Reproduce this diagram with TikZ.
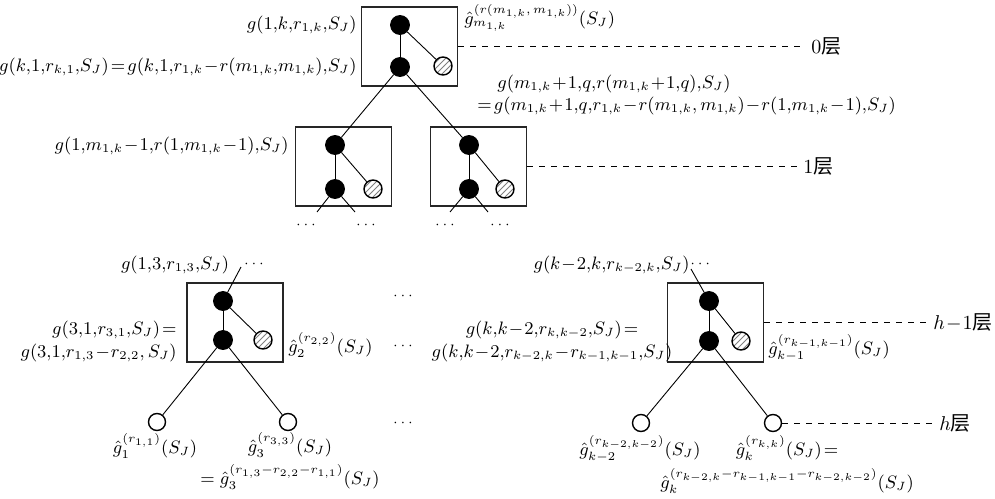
\documentclass[tikz,border=0pt]{standalone}
\usepackage{fontspec}
\newfontfamily\cjk{Noto Sans CJK SC}
\usetikzlibrary{patterns}
\mathcode`\,="013B
\begin{document}
\begin{tikzpicture}[x=0.5pt,y=-0.5pt,
  blk/.style={circle, fill=black, draw=black, inner sep=0pt, minimum size=9.5pt},
  hatc/.style={circle, draw=black, line width=0.7pt, pattern=north east lines, pattern color=gray, inner sep=0pt, minimum size=9pt},
  leaf/.style={circle, draw=black, line width=0.7pt, fill=white, inner sep=0pt, minimum size=8.5pt},
  frame/.style={draw=black!85, line width=0.6pt, inner sep=0pt, minimum width=48pt, minimum height=39.5pt},
  edge/.style={line width=0.45pt},
  lay/.style={dashed, line width=0.45pt},
  lbl/.style={inner sep=0pt, font=\fontsize{9.2}{11.5}\selectfont},
  dots/.style={inner sep=0pt, font=\fontsize{7}{8}\selectfont},
  laylbl/.style={inner sep=2.5pt, anchor=west, font=\fontsize{10}{12}\selectfont},
]
\useasboundingbox (0,0) rectangle (995,498);

% ---------- frames ----------
\node[frame] (B0) at (409.5,46.5) {};
\node[frame] (B1L) at (343.5,166.5) {};
\node[frame] (B1R) at (478.5,166.5) {};
\node[frame] (B2L) at (235,322.5) {};
\node[frame] (B2R) at (715.5,322.5) {};

% ---------- level 0 ----------
\node[blk] (a0) at (400,25) {};
\node[blk] (b0) at (400,67) {};
\node[hatc] (c0) at (443,66) {};
\draw[edge] (a0) -- (b0);
\draw[edge] (a0) -- (c0);
\node[lbl, anchor=east] (l0a) at (357,25) {$g(1,k,r_{1,k},S_J)$};
\node[lbl, anchor=east] (l0b) at (357,67) {$g(k,1,r_{k,1},S_J)\!=\!g(k,1,r_{1,k}\!-\!r(m_{1,k},m_{1,k}),S_J)$};
\node[lbl, anchor=west] (l0c) at (464,18) {$\hat{g}_{m_{1,k}}^{(r(m_{1,k},\,m_{1,k}))}(S_J)$};
\node[laylbl] (L0) at (806,46.5) {0\cjk 层};
\draw[lay] (B0.east) -- (L0.west);

% ---------- level 1 ----------
\node[blk] (a1) at (335,145) {};
\node[blk] (b1) at (335,189) {};
\node[hatc] (c1) at (373,189) {};
\node[blk] (a2) at (469,145) {};
\node[blk] (b2) at (469,189) {};
\node[hatc] (c2) at (505,189) {};
\draw[edge] (a1) -- (b1);
\draw[edge] (a1) -- (c1);
\draw[edge] (a2) -- (b2);
\draw[edge] (a2) -- (c2);
\draw[edge] (b0) -- (a1);
\draw[edge] (b0) -- (a2);
\coordinate (s1l) at (317,212);
\coordinate (s1r) at (355,212);
\coordinate (s2l) at (450,212);
\coordinate (s2r) at (488,212);
\draw[edge] (b1) -- (s1l);
\draw[edge] (b1) -- (s1r);
\draw[edge] (b2) -- (s2l);
\draw[edge] (b2) -- (s2r);
\node[dots] (d1a) at (306,225) {$\cdots$};
\node[dots] (d1b) at (366,225) {$\cdots$};
\node[dots] (d2a) at (445,225) {$\cdots$};
\node[dots] (d2b) at (500,225) {$\cdots$};
\node[lbl, anchor=east] (l1a) at (289,146) {$g(1,m_{1,k}\!-\!1,r(1,m_{1,k}\!-\!1),S_J)$};
\node[lbl, anchor=west] (l1b) at (497,84) {$g(m_{1,k}\!+\!1,q,r(m_{1,k}\!+\!1,q),S_J)$};
\node[lbl, anchor=west] (l1c) at (477,106) {$=\!g(m_{1,k}\!+\!1,q,r_{1,k}\!-\!r(m_{1,k},\,m_{1,k})\!-\!r(1,m_{1,k}\!-\!1),S_J)$};
\node[laylbl] (L1) at (798,166.5) {1\cjk 层};
\draw[lay] (B1R.east) -- (L1.west);

% ---------- level h-1, left ----------
\node[blk] (a3) at (223,301) {};
\node[blk] (b3) at (223,340) {};
\node[hatc] (c3) at (263,340) {};
\draw[edge] (a3) -- (b3);
\draw[edge] (a3) -- (c3);
\coordinate (t3) at (241,267);
\draw[edge] (a3) -- (t3);
\node[lbl] (l3a) at (175,265) {$g(1,3,r_{1,3},S_J)$};
\node[dots] (d3a) at (254,264) {$\cdots$};
\node[lbl, anchor=east, align=right] (l3b) at (177,341) {$g(3,1,r_{3,1},S_J)\!=$\\$g(3,1,r_{1,3}\!-\!r_{2,2},\,S_J)$};
\node[lbl, anchor=west] (l3c) at (288,345) {$\hat{g}_2^{(r_{2,2})}(S_J)$};
\node[leaf] (d3) at (157,422) {};
\node[leaf] (e3) at (288,422) {};
\draw[edge] (b3) -- (d3);
\draw[edge] (b3) -- (e3);
\node[lbl] (l3d) at (155,446) {$\hat{g}_1^{(r_{1,1})}(S_J)$};
\node[lbl] (l3e) at (290,445) {$\hat{g}_3^{(r_{3,3})}(S_J)$};
\node[lbl] (l3f) at (290,477) {$=\hat{g}_3^{(r_{1,3}-r_{2,2}-r_{1,1})}(S_J)$};

% ---------- middle dots ----------
\node[dots] (m1) at (403,296) {$\cdots$};
\node[dots] (m2) at (403,346) {$\cdots$};
\node[dots] (m3) at (403,423) {$\cdots$};

% ---------- level h-1, right ----------
\node[blk] (a4) at (709,301) {};
\node[blk] (b4) at (709,341) {};
\node[hatc] (c4) at (741,341) {};
\draw[edge] (a4) -- (b4);
\draw[edge] (a4) -- (c4);
\coordinate (t4) at (691,269);
\draw[edge] (a4) -- (t4);
\node[lbl, anchor=east] (l4a) at (690,265) {$g(k\!-\!2,k,r_{k-2,k},S_J)$};
\node[dots, anchor=west] (d4a) at (690,264) {$\cdots$};
\node[lbl, align=center] (l4b) at (552,341) {$g(k,k\!-\!2,r_{k,k-2},S_J)\!=$\\$g(k,k\!-\!2,r_{k-2,k}\!-\!r_{k-1,k-1},S_J)$};
\node[lbl, anchor=west] (l4c) at (768,348) {$\hat{g}_{k-1}^{(r_{k-1,k-1})}(S_J)$};
\node[laylbl] (L2) at (928,322.5) {$h\!-\!1$\cjk 层};
\draw[lay] (B2R.east) -- (L2.west);
\node[leaf] (d4) at (641,423) {};
\node[leaf] (e4) at (773,423) {};
\draw[edge] (b4) -- (d4);
\draw[edge] (b4) -- (e4);
\node[laylbl] (L3) at (934,423) {$h$\cjk 层};
\draw[lay] (e4.east) -- (L3.west);
\node[lbl] (l4d) at (640,449) {$\hat{g}_{k-2}^{(r_{k-2,k-2})}(S_J)$};
\node[lbl] (l4e) at (787,448) {$\hat{g}_k^{(r_{k,k})}(S_J)\!=$};
\node[lbl] (l4f) at (787,481) {$\hat{g}_k^{(r_{k-2,k}-r_{k-1,k-1}-r_{k-2,k-2})}(S_J)$};
\end{tikzpicture}
\end{document}
